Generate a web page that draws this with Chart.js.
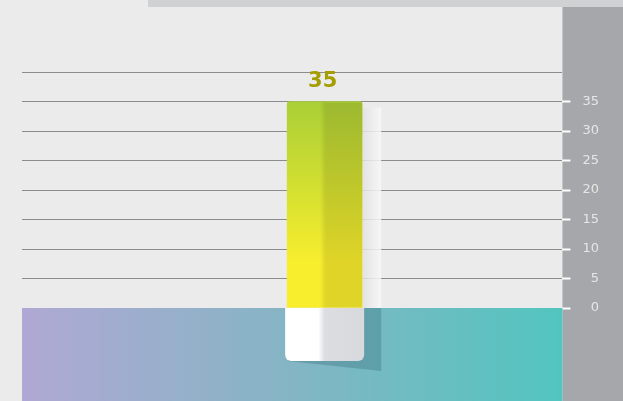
<!DOCTYPE html>
<html>
<head>
<meta charset="utf-8">
<script src="https://cdn.jsdelivr.net/npm/chart.js@4"></script>
<style>
  html, body { margin: 0; padding: 0; background: #ebebeb; }
  #wrap { width: 623px; height: 401px; }
</style>
</head>
<body>
<div id="wrap"><canvas id="myChart" width="623" height="401"></canvas></div>
<script>
var categories = ['Level'];
var values = [35];
var tickValues = [0, 5, 10, 15, 20, 25, 30, 35, 40];

// background, top strip and the grey axis panel
var backdrop = {
    id: 'backdrop',
    beforeDraw: function (chart) {
        var c = chart.ctx;
        c.save();
        c.fillStyle = '#ebebeb';
        c.fillRect(0, 0, chart.width, chart.height);
        c.fillStyle = '#d0d1d3';
        c.fillRect(148, 0, chart.width - 148, 7);
        c.fillStyle = '#a6a7aa';
        c.fillRect(chart.chartArea.right, 7, chart.width - chart.chartArea.right, chart.height - 7);
        c.restore();
    }
};

// glass tube behind the bar, the tank under zero and its shadow
var tank = {
    id: 'tank',
    beforeDatasetsDraw: function (chart) {
        var c = chart.ctx;
        var area = chart.chartArea;
        var bar = chart.getDatasetMeta(0).data[0];
        var right = bar.x + bar.width / 2;
        c.save();
        var g = c.createLinearGradient(right, 0, right + 19, 0);
        g.addColorStop(0, 'rgba(225,225,227,0.85)');
        g.addColorStop(1, 'rgba(248,248,248,0.85)');
        c.fillStyle = g;
        c.fillRect(right, bar.y + 6, 19, area.bottom - bar.y - 6);

        var lg = c.createLinearGradient(area.left, 0, area.right, 0);
        lg.addColorStop(0, '#b0a8d4');
        lg.addColorStop(0.5, '#84b5c4');
        lg.addColorStop(1, '#52c5bf');
        c.fillStyle = lg;
        c.fillRect(area.left, area.bottom, area.right - area.left, chart.height - area.bottom);

        c.fillStyle = 'rgba(20,70,80,0.22)';
        c.beginPath();
        c.moveTo(right + 2, area.bottom);
        c.lineTo(right + 19, area.bottom);
        c.lineTo(right + 19, area.bottom + 63);
        c.lineTo(bar.x - bar.width / 2, area.bottom + 53);
        c.closePath();
        c.fill();
        c.restore();
    },
    afterDatasetsDraw: function (chart) {
        var c = chart.ctx;
        var area = chart.chartArea;
        var bar = chart.getDatasetMeta(0).data[0];
        var left = bar.x - bar.width / 2;
        var w = bar.width;
        c.save();
        // darker right half of the bar
        var sh = c.createLinearGradient(left, 0, left + w, 0);
        sh.addColorStop(0, 'rgba(0,0,0,0)');
        sh.addColorStop(0.44, 'rgba(0,0,0,0)');
        sh.addColorStop(0.52, 'rgba(60,40,0,0.13)');
        sh.addColorStop(1, 'rgba(60,40,0,0.13)');
        c.fillStyle = sh;
        c.fillRect(left, bar.y + 1, w, bar.base - bar.y - 1);

        // bulb
        var bl = left - 2, bw = w + 4, bt = area.bottom, bh = 53;
        var bg = c.createLinearGradient(bl, 0, bl + bw, 0);
        bg.addColorStop(0, '#ffffff');
        bg.addColorStop(0.42, '#ffffff');
        bg.addColorStop(0.5, '#dcdde0');
        bg.addColorStop(1, '#d8d9dc');
        c.fillStyle = bg;
        c.beginPath();
        c.roundRect(bl, bt, bw, bh, [0, 0, 6, 6]);
        c.fill();

        // value label
        c.fillStyle = '#a69d00';
        c.font = 'bold 21px "DejaVu Sans"';
        c.textAlign = 'center';
        c.textBaseline = 'middle';
        c.fillText(values[0], bar.x - 2, bar.y - 20);
        c.restore();
    }
};

var ctx = document.getElementById('myChart').getContext('2d');
var myChart = new Chart(ctx, {
    type: 'bar',
    data: {
        labels: categories,
        datasets: [{
            label: categories[0],
            data: values.map(function (v, i) { return { x: i, y: v }; }),
            barThickness: 75,
            borderRadius: { topLeft: 3, topRight: 3 },
            borderSkipped: 'bottom',
            backgroundColor: function (context) {
                var chart = context.chart;
                if (!chart.chartArea) return '#d8e22f';
                var y = chart.scales.y;
                var g = chart.ctx.createLinearGradient(0, y.getPixelForValue(values[0]), 0, y.getPixelForValue(0));
                g.addColorStop(0, '#aacf37');
                g.addColorStop(0.45, '#d6e130');
                g.addColorStop(0.78, '#f8ee2e');
                g.addColorStop(1, '#f8ee2e');
                return g;
            }
        }]
    },
    options: {
        responsive: false,
        animation: false,
        layout: { padding: { top: 72, bottom: 93, left: 22, right: 24 } },
        plugins: {
            legend: { display: false },
            tooltip: { enabled: false }
        },
        scales: {
            x: {
                type: 'linear',
                offset: false,
                min: -0.56,
                max: 0.44,
                display: false
            },
            y: {
                position: 'right',
                min: 0,
                max: 40,
                afterBuildTicks: function (scale) {
                    scale.ticks = tickValues.map(function (v) { return { value: v }; });
                },
                border: { display: false },
                grid: {
                    color: '#8c8c8c',
                    lineWidth: 1,
                    tickLength: 8,
                    tickWidth: 2,
                    tickColor: function (c) { return c.tick && c.tick.value === 40 ? 'rgba(0,0,0,0)' : '#ffffff'; }
                },
                ticks: {
                    padding: 6,
                    crossAlign: 'far',
                    color: '#e6e6e6',
                    font: { family: '"DejaVu Sans"', size: 13 },
                    callback: function (v) { return v === 40 ? '' : v; }
                }
            }
        }
    },
    plugins: [backdrop, tank]
});
</script>
</body>
</html>
